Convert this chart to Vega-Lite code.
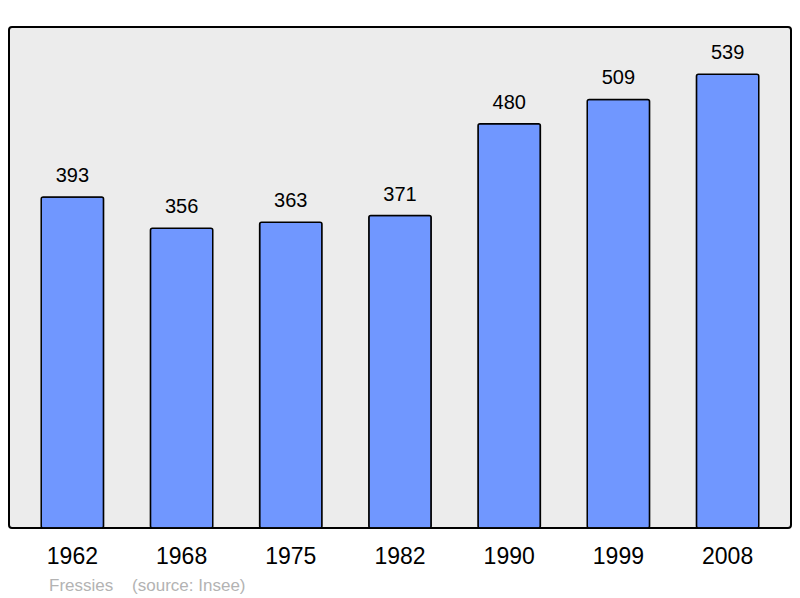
{
  "$schema": "https://vega.github.io/schema/vega-lite/v6.json",
  "autosize": "none",
  "width": 782,
  "height": 501,
  "padding": {"left": 9, "top": 27, "right": 9, "bottom": 70},
  "background": "white",
  "title": {
    "text": "Fressies\u00a0\u00a0\u00a0\u00a0(source: Insee)",
    "orient": "bottom",
    "anchor": "start",
    "dx": 40,
    "offset": 10,
    "font": "Liberation Sans",
    "fontSize": 17,
    "fontWeight": "normal",
    "color": "#b3b3b3"
  },
  "data": {
    "values": [
      {"year": "1962", "pop": 393},
      {"year": "1968", "pop": 356},
      {"year": "1975", "pop": 363},
      {"year": "1982", "pop": 371},
      {"year": "1990", "pop": 480},
      {"year": "1999", "pop": 509},
      {"year": "2008", "pop": 539}
    ]
  },
  "encoding": {
    "x": {
      "field": "year",
      "type": "ordinal",
      "scale": {"paddingInner": 0.429, "paddingOuter": 0.295},
      "axis": {
        "title": null,
        "labelAngle": 0,
        "domain": false,
        "ticks": false,
        "labelPadding": 17,
        "labelFont": "Liberation Sans",
        "labelFontSize": 23,
        "labelColor": "black"
      }
    },
    "y": {
      "field": "pop",
      "type": "quantitative",
      "scale": {"domain": [0, 595], "nice": false},
      "axis": null
    }
  },
  "layer": [
    {
      "mark": {
        "type": "bar",
        "color": "#7097ff",
        "stroke": "black",
        "strokeWidth": 1.5,
        "cornerRadius": 2
      }
    },
    {
      "mark": {
        "type": "text",
        "baseline": "alphabetic",
        "dy": -15,
        "font": "Liberation Sans",
        "fontSize": 20,
        "color": "black"
      },
      "encoding": {"text": {"field": "pop", "type": "quantitative"}}
    }
  ],
  "config": {
    "view": {
      "fill": "#ececec",
      "stroke": "black",
      "strokeWidth": 2,
      "cornerRadius": 3
    }
  }
}
